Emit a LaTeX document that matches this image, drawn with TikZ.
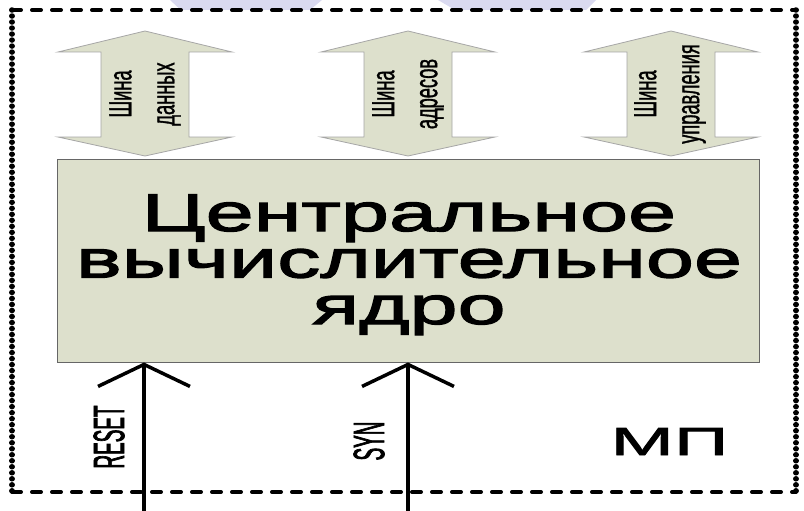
\documentclass[tikz,border=0pt]{standalone}
\usepackage{fontspec}
\setmainfont{Liberation Sans}
\newfontfamily\corefont[FakeStretch=1.63,FakeBold=2.5]{Liberation Sans}
\newfontfamily\busfont[FakeStretch=0.57,FakeBold=1]{Liberation Sans}
\newfontfamily\sigfont[FakeStretch=0.43,FakeBold=1.5]{Liberation Sans}
\newfontfamily\mpfont[FakeStretch=1.95,FakeBold=2.5]{Liberation Sans}
\usetikzlibrary{arrows.meta}
\definecolor{corefill}{RGB}{221,224,204}
\definecolor{lav}{RGB}{218,218,240}
\tikzset{
  hborder/.style={line width=4pt, line cap=round, dash pattern=on 9pt off 11pt},
  vborder/.style={line width=5.5pt, line cap=round, dash pattern=on 0.01pt off 6pt},
  corebox/.style={draw=gray!80!black, line width=1pt, fill=corefill, inner sep=0pt,
    minimum width=702pt, minimum height=203pt},
  coretext/.style={anchor=base, align=center, inner sep=0pt, font=\corefont\fontsize{53}{46.5}\selectfont},
  busshape/.style={draw=gray!70, line width=0.8pt, fill=corefill},
  bustext/.style={rotate=90, align=center, inner sep=0pt, font=\busfont\fontsize{32}{43}\selectfont},
  sigtext/.style={rotate=90, inner sep=0pt, font=\sigfont\fontsize{44}{44}\selectfont},
  sig/.style={line width=4pt, -{Straight Barb[length=22pt, width=92pt, line width=3.5pt]}},
  busarrow/.pic={
    \path[busshape] (0,-62.5) -- (87,-41.5) -- (44,-41.5) -- (44,43.5) -- (87,43.5)
      -- (0,62.5) -- (-87,43.5) -- (-44,43.5) -- (-44,-41.5) -- (-87,-41.5) -- cycle;
  }
}
\begin{document}
\begin{tikzpicture}[x=1pt,y=-1pt]
\useasboundingbox (0,0) rectangle (804,511);
% background decoration
\fill[lav] (170,0) -- (322,0) -- (305,14) -- (185,14) -- cycle;
\fill[lav] (438,0) -- (596,0) -- (582,14) -- (462,14) -- cycle;
\fill[white] (12,10) rectangle (796,492);
% outer border (МП)
\coordinate (tl) at (12,10);
\coordinate (tr) at (796,10);
\coordinate (bl) at (12,492);
\coordinate (br) at (796,492);
\draw[vborder] (tl) -- (bl);
\draw[vborder] (tr) -- (br);
\draw[hborder] (tl) -- (tr);
\draw[hborder] (bl) -- (br);
% core
\node[corebox] (core) at (408,260.5) {};
\node[coretext] (ctext) at (409,324) {Центральное\\вычислительное\\ядро};
% buses
\pic at (145,93.5) {busarrow};
\pic at (408,93.5) {busarrow};
\pic at (671,93.5) {busarrow};
\node[bustext] (b1) at (145,94) {Шина\\данных};
\node[bustext] (b2) at (408,94) {Шина\\адресов};
\node[bustext] (b3) at (670,94) {Шина\\управления};
% signals
\coordinate (rin) at (144,511);
\coordinate (sin) at (408,511);
\draw[sig] (rin) -- (rin |- core.south);
\draw[sig] (sin) -- (sin |- core.south);
\node[sigtext] (reset) at (109,437) {RESET};
\node[sigtext] (syn) at (369,441) {SYN};
\node[anchor=base, inner sep=0pt, font=\mpfont\fontsize{39}{39}\selectfont] (mp) at (669.5,455) {МП};
\end{tikzpicture}
\end{document}
